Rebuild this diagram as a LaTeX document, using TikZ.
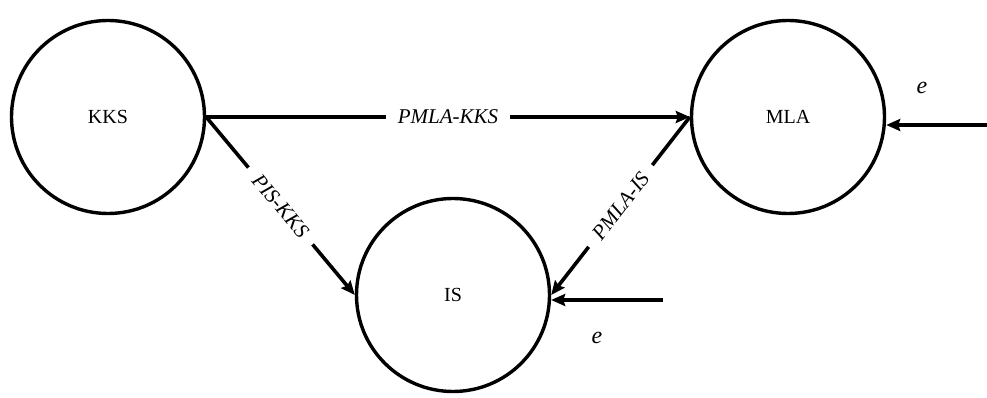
\documentclass[tikz,border=0pt]{standalone}
\usepackage{fontspec}
\setmainfont{Liberation Serif}
\usetikzlibrary{arrows.meta}
\tikzset{
  state/.style={draw, circle, line width=3.4pt, minimum size=193pt, inner sep=0pt, font=\fontsize{20}{22}\selectfont},
  flow/.style={line width=3.6pt, -{Stealth[length=14pt,width=12pt,inset=2pt]}},
  flowlabel/.style={fill=white, inner xsep=12pt, inner ysep=3pt, font=\fontsize{21}{23}\selectfont\itshape},
  inlabel/.style={font=\fontsize{24}{26}\selectfont\itshape}
}
\begin{document}
\begin{tikzpicture}[x=1pt,y=1pt]
\useasboundingbox (0,0) rectangle (987,398);
\node[state] (KKS) at (108,281) {KKS};
\node[state] (MLA) at (788,281) {MLA};
\node[state] (IS) at (453,103) {IS};
\coordinate (eIS) at (663,98);
\coordinate (eMLA) at (990,273);
\draw[flow] (KKS.east) -- node[flowlabel] {PMLA-KKS} (MLA.west);
\draw[flow] (KKS.east) -- node[flowlabel, sloped] {PIS-KKS} (IS.west);
\draw[flow] (MLA.west) -- node[flowlabel, sloped] {PMLA-IS} (IS.east);
\draw[flow] (eIS) -- (eIS -| IS.east);
\draw[flow] (eMLA) -- (eMLA -| MLA.east);
\node[inlabel] (e1) at (597,60) {e};
\node[inlabel] (e2) at (922,310) {e};
\end{tikzpicture}
\end{document}
